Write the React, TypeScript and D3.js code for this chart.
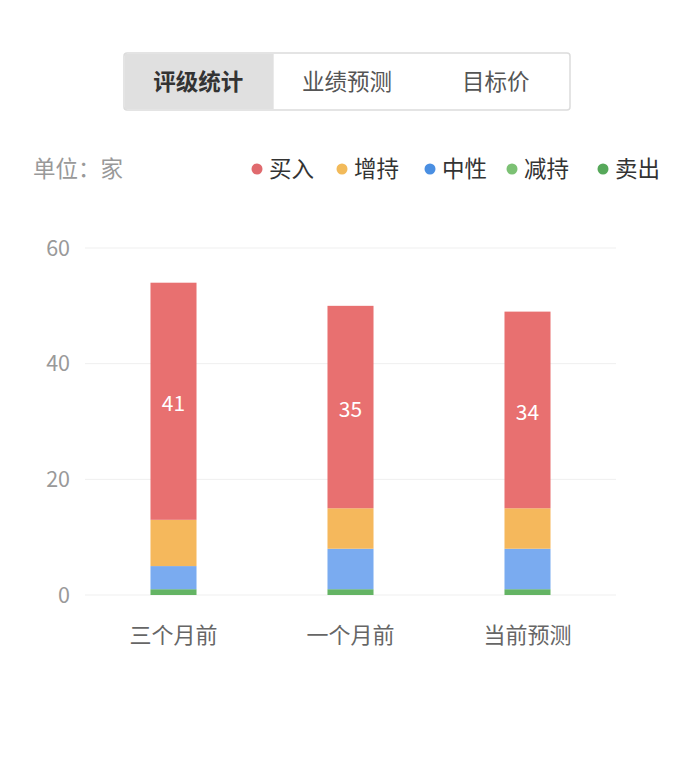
import React, { useEffect, useRef } from 'react';
import * as d3 from 'd3';

const categories = ['三个月前', '一个月前', '当前预测'];
const seriesNames = ['卖出', '减持', '中性', '增持', '买入'];
const sellValues = [0, 0, 0];
const reduceValues = [1, 1, 1];
const neutralValues = [4, 7, 7];
const addValues = [8, 7, 7];
const buyValues = [41, 35, 34];
const yTicks = [0, 20, 40, 60];
const tabs = ['评级统计', '业绩预测', '目标价'];
const legendNames = ['买入', '增持', '中性', '减持', '卖出'];

const barColors: Record<string, string> = {
  买入: '#e87070',
  增持: '#f5b85c',
  中性: '#7aabf0',
  减持: '#64b464',
  卖出: '#58a858',
};
const dotColors: Record<string, string> = {
  买入: '#e06a6e',
  增持: '#f2ba5a',
  中性: '#4a8fe2',
  减持: '#7cc174',
  卖出: '#56a85a',
};

const FONT = '"Noto Sans CJK SC", "Noto Sans", sans-serif';

export default function App() {
  const svgRef = useRef<SVGSVGElement>(null);

  useEffect(() => {
    if (!svgRef.current) return;
    const svg = d3.select(svgRef.current);
    svg.selectAll('*').remove();

    const width = 693;
    const height = 757;
    const margin = { top: 248, right: 77, bottom: 162, left: 85 };

    svg.attr('width', width).attr('height', height).style('font-family', FONT);

    // tabs
    const tabX = d3.scaleBand().domain(tabs).range([124, 570]);
    const tabG = svg.append('g');
    tabG.append('rect')
      .attr('x', 124).attr('y', 53).attr('width', 446).attr('height', 57)
      .attr('rx', 3).attr('fill', '#fff').attr('stroke', '#dcdcdc').attr('stroke-width', 1.5);
    tabG.append('rect')
      .attr('x', 125).attr('y', 54).attr('width', tabX.bandwidth()).attr('height', 55)
      .attr('fill', '#e0e0e0');
    tabG.selectAll('text.tab')
      .data(tabs)
      .enter()
      .append('text')
      .attr('class', 'tab')
      .attr('x', d => tabX(d)! + tabX.bandwidth() / 2)
      .attr('y', 90)
      .attr('text-anchor', 'middle')
      .attr('font-size', 22.5)
      .attr('font-weight', (d, i) => (i === 0 ? 700 : 400))
      .attr('fill', (d, i) => (i === 0 ? '#333' : '#555'))
      .text(d => d);

    // unit
    svg.append('text')
      .attr('x', 33).attr('y', 177)
      .attr('font-size', 22.5).attr('fill', '#999')
      .text('单位：家');

    // legend
    const legendX = [257, 342, 430, 512, 603];
    const legend = svg.append('g');
    legendNames.forEach((name, i) => {
      legend.append('circle')
        .attr('cx', legendX[i]).attr('cy', 169).attr('r', 5.5)
        .attr('fill', dotColors[name]);
      legend.append('text')
        .attr('x', legendX[i] + 12).attr('y', 177)
        .attr('font-size', 22.5).attr('fill', '#333')
        .text(name);
    });

    const x = d3.scaleBand()
      .domain(categories)
      .range([margin.left, width - margin.right])
      .paddingInner(0.74)
      .paddingOuter(0.37);

    const y = d3.scaleLinear()
      .domain([0, 60])
      .range([height - margin.bottom, margin.top]);

    // gridlines
    svg.append('g')
      .selectAll('line')
      .data(yTicks)
      .enter()
      .append('line')
      .attr('x1', margin.left)
      .attr('x2', width - margin.right)
      .attr('y1', d => y(d))
      .attr('y2', d => y(d))
      .attr('stroke', '#efefef')
      .attr('stroke-width', 1);

    // y axis labels
    svg.append('g')
      .selectAll('text')
      .data(yTicks)
      .enter()
      .append('text')
      .attr('x', 70)
      .attr('y', d => y(d) + 7.5)
      .attr('text-anchor', 'end')
      .attr('font-size', 21.5)
      .attr('fill', '#999')
      .text(d => d);

    const table = categories.map((c, i) => ({
      category: c,
      卖出: sellValues[i],
      减持: reduceValues[i],
      中性: neutralValues[i],
      增持: addValues[i],
      买入: buyValues[i],
    }));

    const stacked = d3.stack<any>().keys(seriesNames)(table);

    stacked.forEach(layer => {
      svg.append('g')
        .selectAll('rect')
        .data(layer)
        .enter()
        .append('rect')
        .attr('x', d => x(d.data.category)!)
        .attr('y', d => y(d[1]))
        .attr('width', x.bandwidth())
        .attr('height', d => y(d[0]) - y(d[1]))
        .attr('fill', barColors[layer.key]);
    });

    // value labels on buy segment
    const buyLayer = stacked.find(l => l.key === '买入')!;
    svg.append('g')
      .selectAll('text')
      .data(buyLayer)
      .enter()
      .append('text')
      .attr('x', d => x(d.data.category)! + x.bandwidth() / 2)
      .attr('y', d => y((d[0] + d[1]) / 2) + 10)
      .attr('text-anchor', 'middle')
      .attr('font-size', 21)
      .attr('fill', '#fff')
      .text(d => d[1] - d[0]);

    // x axis labels
    svg.append('g')
      .selectAll('text')
      .data(categories)
      .enter()
      .append('text')
      .attr('x', d => x(d)! + x.bandwidth() / 2)
      .attr('y', height - margin.bottom + 48)
      .attr('text-anchor', 'middle')
      .attr('font-size', 22)
      .attr('fill', '#666')
      .text(d => d);
  }, []);

  return (
    <div style={{ position: 'absolute', left: 0, top: 0 }}>
      <svg ref={svgRef}></svg>
    </div>
  );
}
